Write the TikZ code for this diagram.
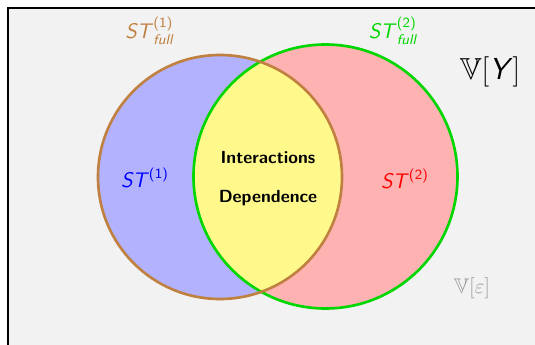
\documentclass[tikz,border=0pt]{standalone}
\usepackage{amsmath,amssymb}
\renewcommand{\familydefault}{\sfdefault}
\usepackage{tikz}
\usepackage{xcolor}
\definecolor{stBrown}{RGB}{192, 128, 64}
\definecolor{stGreen}{RGB}{0, 214, 0}
\colorlet{frameColor}{black!5}
\colorlet{leftArea}{blue!30}
\colorlet{rightArea}{red!30}
\colorlet{bothArea}{yellow!45}
\tikzset{
    leftedge/.style={draw=stBrown, line width=1.5pt},
    rightedge/.style={draw=stGreen, line width=1.5pt},
    label/.style={inner sep=1pt, font=\large}
}
\newcommand{\sti}[1]{\textsf{\textit{#1}}}

\begin{document}
\begin{tikzpicture}
    \def\leftcircle{(4.4,-3.54) circle (2.44cm)}
    \def\rightcircle{(6.51,-3.53) circle (2.64cm)}

    \useasboundingbox (0,0) rectangle (10.7,-6.9);

    % Frame for the total variance
    \draw[fill=frameColor, line width=1.4pt] (0.16,-0.16) rectangle (11.2,-7.4);

    \fill[leftArea] \leftcircle;
    \fill[rightArea] \rightcircle;
    \begin{scope}
        \clip \leftcircle;
        \fill[bothArea] \rightcircle;
    \end{scope}
    \draw[rightedge] \rightcircle;
    \draw[leftedge] \leftcircle;

    \node[label, text=stBrown] (fullone) at (3.0,-0.62) {$\sti{ST}^{\textsf{(1)}}_{\sti{full}}$};
    \node[label, text=stGreen] (fulltwo) at (7.87,-0.62) {$\sti{ST}^{\textsf{(2)}}_{\sti{full}}$};
    \node[label, text=blue] (stone) at (2.9,-3.56) {$\sti{ST}^{\textsf{(1)}}$};
    \node[label, text=red] (sttwo) at (8.1,-3.58) {$\sti{ST}^{\textsf{(2)}}$};
    \node[font=\bfseries] (inter) at (5.36,-3.14) {Interactions};
    \node[font=\bfseries] (dep) at (5.36,-3.96) {Dependence};
    \node[font=\LARGE] (vary) at (9.8,-1.44) {$\mathbb{V}[\sti{Y}]$};
    \node[text=black!40, font=\large] (vareps) at (9.44,-5.76) {$\mathbb{V}[\varepsilon]$};
\end{tikzpicture}
\end{document}
